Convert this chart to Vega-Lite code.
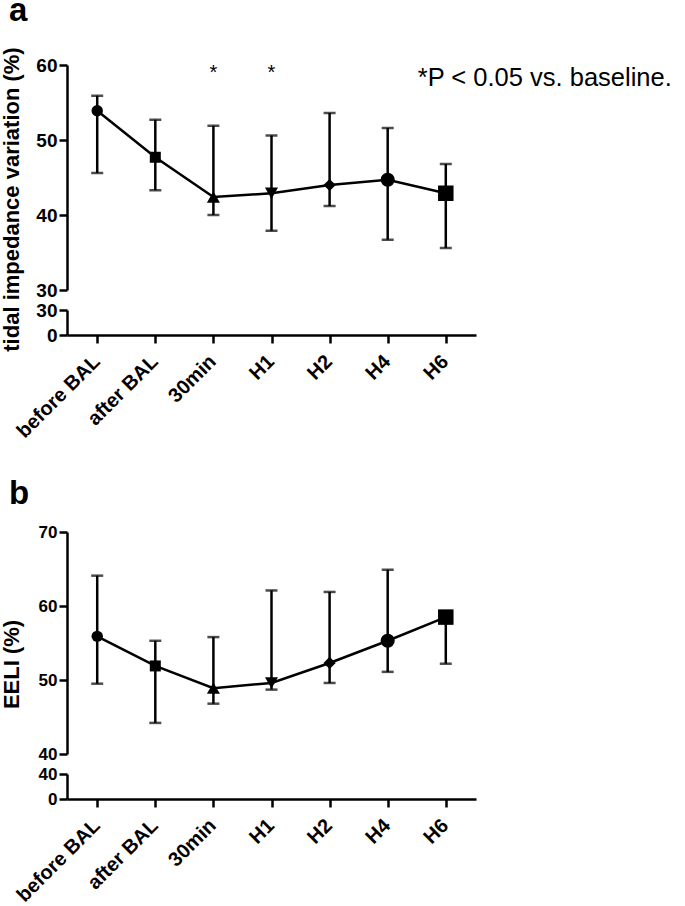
{
  "$schema": "https://vega.github.io/schema/vega-lite/v6.json",
  "background": "white",
  "padding": {"left": -1, "top": -6, "right": 5, "bottom": 5},
  "config": {
    "view": {"stroke": null},
    "axis": {
      "grid": false,
      "domainColor": "black",
      "domainWidth": 2.5,
      "tickColor": "black",
      "tickWidth": 2.5,
      "tickSize": 8,
      "labelFont": "Liberation Sans",
      "labelFontWeight": "bold",
      "labelFontSize": 19,
      "labelColor": "black",
      "labelPadding": 2,
      "titleFont": "Liberation Sans",
      "titleFontWeight": "bold",
      "titleFontSize": 22,
      "titleColor": "black"
    }
  },
  "datasets": {
    "a": [
      {"time": "before BAL", "mean": 53.9, "lo": 45.6, "hi": 55.9},
      {"time": "after BAL", "mean": 47.7, "lo": 43.3, "hi": 52.7},
      {"time": "30min", "mean": 42.4, "lo": 40.0, "hi": 51.9},
      {"time": "H1", "mean": 42.9, "lo": 37.9, "hi": 50.6},
      {"time": "H2", "mean": 44.0, "lo": 41.2, "hi": 53.6},
      {"time": "H4", "mean": 44.7, "lo": 36.7, "hi": 51.6},
      {"time": "H6", "mean": 42.9, "lo": 35.6, "hi": 46.8}
    ],
    "b": [
      {"time": "before BAL", "mean": 55.9, "lo": 49.5, "hi": 64.1},
      {"time": "after BAL", "mean": 51.9, "lo": 44.2, "hi": 55.3},
      {"time": "30min", "mean": 48.9, "lo": 46.8, "hi": 55.8},
      {"time": "H1", "mean": 49.6, "lo": 48.7, "hi": 62.1},
      {"time": "H2", "mean": 52.3, "lo": 49.6, "hi": 61.9},
      {"time": "H4", "mean": 55.3, "lo": 51.1, "hi": 64.9},
      {"time": "H6", "mean": 58.5, "lo": 52.2, "hi": 58.9}
    ],
    "stars": [
      {"time": "30min", "y": 58.2, "label": "*"},
      {"time": "H1", "y": 58.2, "label": "*"}
    ],
    "note": [
      {"time": "H6", "y": 57.2, "label": "*P < 0.05 vs. baseline."}
    ]
  },
  "bounds": "flush",
  "spacing": 467,
  "resolve": {"scale": {"x": "independent", "y": "independent"}},
  "vconcat": [
    {
      "bounds": "flush",
      "spacing": 20,
      "resolve": {"scale": {"x": "independent", "y": "independent"}},
      "vconcat": [
        {
          "width": 409,
          "height": 225,
          "title": {"text": "a", "anchor": "start", "frame": "group", "font": "Liberation Sans", "fontWeight": "bold", "fontSize": 33, "color": "black", "dx": -58, "offset": 19},
          "encoding": {
            "x": {"field": "time", "type": "nominal", "scale": {"type": "point", "domain": ["before BAL", "after BAL", "30min", "H1", "H2", "H4", "H6"], "padding": 0.52}, "axis": null}
          },
          "layer": [
            {
              "data": {"name": "a"},
              "mark": {"type": "rule", "color": "black", "strokeWidth": 2.5},
              "encoding": {
                "y": {"field": "lo", "type": "quantitative", "scale": {"domain": [30, 60], "nice": false, "zero": false}, "axis": {"values": [30, 40, 50, 60], "title": "tidal impedance variation (%)", "titleX": -49, "titleY": 134, "titleBaseline": "alphabetic"}},
                "y2": {"field": "hi"}
              }
            },
            {
              "data": {"name": "a"},
              "mark": {"type": "tick", "color": "black", "size": 12, "thickness": 2.5},
              "encoding": {"y": {"field": "hi", "type": "quantitative"}}
            },
            {
              "data": {"name": "a"},
              "mark": {"type": "tick", "color": "black", "size": 12, "thickness": 2.5},
              "encoding": {"y": {"field": "lo", "type": "quantitative"}}
            },
            {
              "data": {"name": "a"},
              "mark": {"type": "line", "color": "black", "strokeWidth": 2.5},
              "encoding": {"y": {"field": "mean", "type": "quantitative"}, "order": {"value": null}}
            },
            {
              "data": {"name": "a"},
              "mark": {"type": "point", "filled": true, "color": "black", "opacity": 1, "strokeWidth": 0},
              "encoding": {
                "y": {"field": "mean", "type": "quantitative"},
                "shape": {"field": "time", "type": "nominal", "scale": {"domain": ["before BAL", "after BAL", "30min", "H1", "H2", "H4", "H6"], "range": ["circle", "square", "triangle-up", "triangle-down", "diamond", "circle", "square"]}, "legend": null},
                "size": {"field": "time", "type": "nominal", "scale": {"type": "ordinal", "domain": ["before BAL", "after BAL", "30min", "H1", "H2", "H4", "H6"], "range": [130, 121, 170, 170, 150, 200, 240]}, "legend": null}
              }
            },
            {
              "data": {"name": "stars"},
              "mark": {"type": "text", "font": "Liberation Sans", "fontSize": 20, "color": "black", "baseline": "alphabetic", "align": "center"},
              "encoding": {"y": {"field": "y", "type": "quantitative"}, "text": {"field": "label"}}
            },
            {
              "data": {"name": "note"},
              "mark": {"type": "text", "font": "Liberation Sans", "fontSize": 25.5, "color": "black", "baseline": "alphabetic", "align": "left", "dx": -28},
              "encoding": {"y": {"field": "y", "type": "quantitative"}, "text": {"field": "label"}}
            }
          ]
        },
        {
          "width": 409,
          "height": 25,
          "data": {"name": "a"},
          "mark": {"type": "point", "opacity": 0},
          "encoding": {
            "x": {"field": "time", "type": "nominal", "scale": {"type": "point", "domain": ["before BAL", "after BAL", "30min", "H1", "H2", "H4", "H6"], "padding": 0.52}, "axis": {"title": null, "labelAngle": -45, "labelAlign": "right", "labelBaseline": "top", "labelPadding": 8, "labelOffset": -8, "labelFontSize": 20}},
            "y": {"datum": 0, "type": "quantitative", "scale": {"domain": [0, 30], "nice": false}, "axis": {"values": [0, 30], "title": null}}
          }
        }
      ]
    },
    {
      "bounds": "flush",
      "spacing": 20,
      "resolve": {"scale": {"x": "independent", "y": "independent"}},
      "vconcat": [
        {
          "width": 409,
          "height": 222,
          "title": {"text": "b", "anchor": "start", "frame": "group", "font": "Liberation Sans", "fontWeight": "bold", "fontSize": 33, "color": "black", "dx": -58, "offset": 12},
          "encoding": {
            "x": {"field": "time", "type": "nominal", "scale": {"type": "point", "domain": ["before BAL", "after BAL", "30min", "H1", "H2", "H4", "H6"], "padding": 0.52}, "axis": null}
          },
          "layer": [
            {
              "data": {"name": "b"},
              "mark": {"type": "rule", "color": "black", "strokeWidth": 2.5},
              "encoding": {
                "y": {"field": "lo", "type": "quantitative", "scale": {"domain": [40, 70], "nice": false, "zero": false}, "axis": {"values": [40, 45, 50, 55, 60, 65, 70], "labelFontSize": 17, "labelExpr": "datum.value % 10 === 0 ? datum.label : ''", "tickSize": {"condition": {"test": "datum.value % 10 !== 0", "value": 5}, "value": 8}, "title": "EELI (%)", "titleX": -49, "titleY": 132, "titleBaseline": "alphabetic"}},
                "y2": {"field": "hi"}
              }
            },
            {
              "data": {"name": "b"},
              "mark": {"type": "tick", "color": "black", "size": 12, "thickness": 2.5},
              "encoding": {"y": {"field": "hi", "type": "quantitative"}}
            },
            {
              "data": {"name": "b"},
              "mark": {"type": "tick", "color": "black", "size": 12, "thickness": 2.5},
              "encoding": {"y": {"field": "lo", "type": "quantitative"}}
            },
            {
              "data": {"name": "b"},
              "mark": {"type": "line", "color": "black", "strokeWidth": 2.5},
              "encoding": {"y": {"field": "mean", "type": "quantitative"}, "order": {"value": null}}
            },
            {
              "data": {"name": "b"},
              "mark": {"type": "point", "filled": true, "color": "black", "opacity": 1, "strokeWidth": 0},
              "encoding": {
                "y": {"field": "mean", "type": "quantitative"},
                "shape": {"field": "time", "type": "nominal", "scale": {"domain": ["before BAL", "after BAL", "30min", "H1", "H2", "H4", "H6"], "range": ["circle", "square", "triangle-up", "triangle-down", "diamond", "circle", "square"]}, "legend": null},
                "size": {"field": "time", "type": "nominal", "scale": {"type": "ordinal", "domain": ["before BAL", "after BAL", "30min", "H1", "H2", "H4", "H6"], "range": [130, 121, 170, 170, 150, 200, 225]}, "legend": null}
              }
            }
          ]
        },
        {
          "width": 409,
          "height": 25,
          "data": {"name": "b"},
          "mark": {"type": "point", "opacity": 0},
          "encoding": {
            "x": {"field": "time", "type": "nominal", "scale": {"type": "point", "domain": ["before BAL", "after BAL", "30min", "H1", "H2", "H4", "H6"], "padding": 0.52}, "axis": {"title": null, "labelAngle": -45, "labelAlign": "right", "labelBaseline": "top", "labelPadding": 8, "labelOffset": -8, "labelFontSize": 20}},
            "y": {"datum": 0, "type": "quantitative", "scale": {"domain": [0, 40], "nice": false}, "axis": {"values": [0, 40], "title": null, "labelFontSize": 17}}
          }
        }
      ]
    }
  ]
}
